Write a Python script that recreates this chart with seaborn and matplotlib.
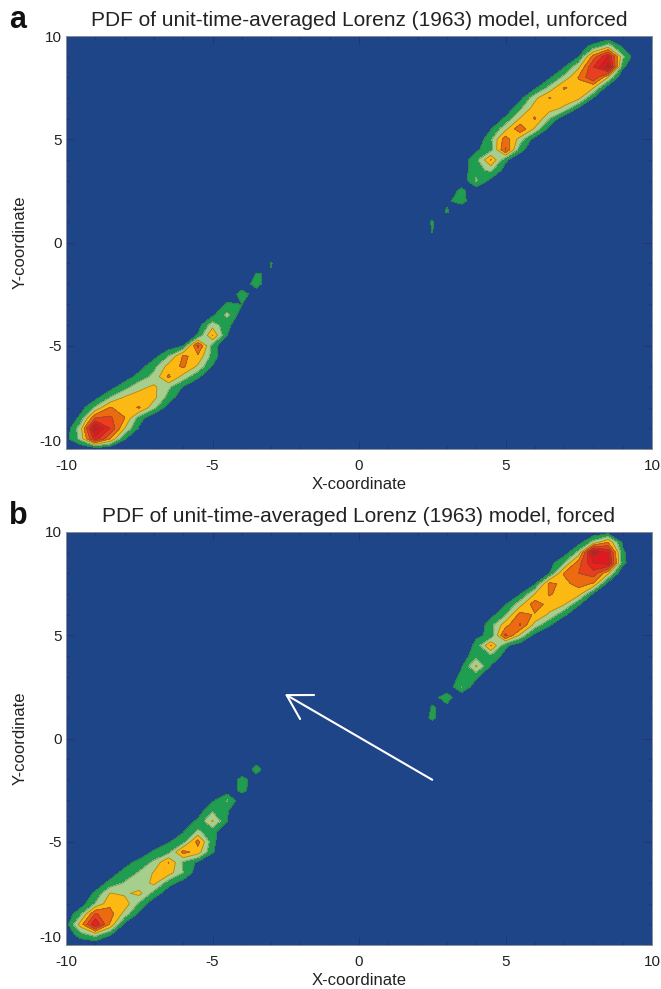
import numpy as np
import matplotlib
matplotlib.use("Agg")
import matplotlib.pyplot as plt
import seaborn as sns

# PDF values, on a 0.5 grid, in units of contour level.
# each row: y of the row, x of its first node, values going right
A_ROW_Y = [9.5, 9.0, 8.5, 8.0, 7.5, 7.0, 6.5, 6.0, 5.5, 5.0, 4.5, 4.0, 3.5, 3.0, 2.5, 2.0, 1.5, 1.0, 0.5,
           -1.0, -1.5, -2.0, -2.5, -3.0, -3.5, -4.0, -4.5, -5.0, -5.5, -6.0, -6.5, -7.0, -7.5, -8.0, -8.5, -9.0, -9.5]
A_ROW_X0 = [7.5, 7.0, 6.5, 6.0, 5.5, 5.5, 5.0, 4.5, 4.5, 4.0, 4.0, 3.5, 3.5, 3.5, 3.0, 3.0, 3.0, 2.5, 2.5,
            -3.0, -3.5, -4.0, -4.5, -5.0, -5.0, -5.5, -6.0, -6.5, -7.0, -7.5, -8.0, -8.5, -9.0, -9.5, -9.5, -10.0, -10.0]
A_ROW_VALUES = [
    [0.5, 1.3, 2.6, 0.8],
    [0.2, 1.0, 4.5, 7.0, 2.3],
    [0.2, 0.9, 2.8, 6.0, 8.5, 1.2],
    [0.1, 0.8, 2.3, 4.1, 6.0, 3.0, 0.0],
    [0.1, 0.7, 2.3, 4.1, 3.6, 3.1, 0.4],
    [0.6, 2.7, 4.05, 3.6, 3.3, 0.9],
    [0.1, 1.8, 3.5, 3.5, 2.8, 0.8, 0.0],
    [0.0, 1.2, 3.1, 4.1, 2.0, 0.2],
    [0.9, 2.7, 4.8, 2.8, 0.6, 0.0],
    [0.1, 1.8, 4.6, 2.5, 0.5, 0.0],
    [0.8, 1.6, 5.1, 1.4, 0.1],
    [0.3, 1.7, 4.05, 1.2, 0.1],
    [0.4, 1.7, 2.2, 0.5],
    [0.25, 2.15, 0.7],
    [0.3, 1.3, 0.25],
    [0.8, 1.4, 0.1],
    [1.15],
    [1.12],
    [1.03],
    [1.08],
    [1.05, 0.9],
    [0.4, 1.4, 0.2],
    [0.2, 1.4, 0.5],
    [0.1, 1.2, 1.0],
    [0.7, 2.3, 0.4],
    [0.5, 2.6, 1.3, 0.1],
    [0.2, 1.1, 4.05, 1.0],
    [0.3, 1.0, 5.3, 1.5, 0.0],
    [0.6, 2.0, 4.1, 3.8, 1.6, 0.0],
    [0.5, 1.7, 3.4, 4.2, 2.8, 0.9, 0.0],
    [0.4, 1.4, 2.3, 4.2, 2.6, 1.2, 0.0],
    [0.5, 1.6, 2.7, 3.2, 2.2, 0.9, 0.0],
    [0.6, 2.0, 3.1, 3.5, 3.3, 1.6, 0.2],
    [0.5, 2.2, 4.1, 3.5, 4.1, 2.3, 0.4],
    [1.3, 5.0, 5.2, 4.05, 1.5, 0.0],
    [0.3, 2.6, 8.5, 6.0, 3.0, 0.8, 0.0],
    [0.6, 2.4, 6.5, 4.1, 1.1],
]

B_ROW_Y = [10.0, 9.5, 9.0, 8.5, 8.0, 7.5, 7.0, 6.5, 6.0, 5.5, 5.0, 4.5, 4.0, 3.5, 3.0, 2.5, 2.0, 1.5, 1.0,
           -1.0, -1.5, -2.0, -2.5, -3.0, -3.5, -4.0, -4.5, -5.0, -5.5, -6.0, -6.5, -7.0, -7.5, -8.0, -8.5, -9.0, -9.5]
B_ROW_X0 = [8.0, 7.5, 7.0, 6.5, 6.0, 5.5, 5.5, 5.0, 4.5, 4.0, 4.0, 3.5, 3.5, 3.5, 3.0, 3.0, 2.5, 2.5, 2.5,
            -3.5, -4.0, -4.5, -4.5, -5.0, -5.5, -6.0, -6.5, -7.0, -7.5, -8.0, -8.5, -9.0, -9.5, -9.5, -10.0, -10.0, -10.0]
B_ROW_VALUES = [
    [0.1, 0.4],
    [0.5, 2.4, 4.0, 0.8],
    [0.4, 2.4, 8.5, 7.0, 1.2],
    [0.5, 2.0, 4.6, 7.0, 7.5, 1.3],
    [0.2, 1.0, 4.1, 5.0, 5.6, 3.2, 0.0],
    [0.0, 0.8, 4.3, 3.7, 4.4, 3.9, 0.5],
    [0.9, 3.0, 4.1, 3.6, 3.4, 0.8],
    [0.9, 2.6, 4.6, 3.6, 3.1, 1.1],
    [0.6, 1.9, 4.4, 3.9, 2.8, 1.2, 0.1],
    [0.1, 1.6, 3.6, 5.1, 2.6, 1.1],
    [0.8, 1.2, 5.3, 2.8, 0.6],
    [0.1, 1.3, 4.1, 1.2, 0.3],
    [0.4, 1.6, 1.8, 0.6],
    [0.9, 3.15, 0.9],
    [0.1, 1.3, 1.2, 0.1],
    [0.2, 2.05, 0.3],
    [0.6, 1.5, 0.1],
    [1.1, 0.7],
    [1.3],
    [0.55],
    [0.3, 1.3, 0.3],
    [0.2, 1.3, 0.55],
    [0.3, 1.3, 0.4],
    [0.8, 2.1, 0.2],
    [0.4, 1.9, 1.1, 0.0],
    [0.3, 1.2, 3.1, 1.0],
    [0.1, 0.9, 2.2, 1.4, 0.0],
    [0.1, 0.9, 1.6, 4.4, 1.3, 0.0],
    [0.1, 1.2, 1.7, 4.4, 3.5, 1.1],
    [0.5, 1.4, 2.2, 4.05, 1.8, 0.8, 0.1],
    [0.4, 1.4, 2.1, 3.1, 3.5, 2.0, 0.4],
    [0.3, 1.3, 2.1, 2.3, 3.3, 1.4, 0.5],
    [0.2, 1.2, 3.05, 2.8, 3.3, 1.6, 0.3],
    [0.4, 2.1, 3.7, 3.6, 1.8, 0.2],
    [0.2, 1.8, 5.1, 4.5, 2.6, 0.7],
    [0.5, 3.5, 7.0, 3.9, 0.7],
    [0.1, 1.6, 2.4, 1.1],
]

LEVELS = [1, 2, 3, 4, 5, 6, 7, 8, 12]
LEVEL_COLORS = ["#1f9e52", "#a6cf8d", "#fdb913", "#ec6a10", "#ea3f1f", "#e8201e", "#e0181f", "#cc1a26"]
TITLES = ["PDF of unit-time-averaged Lorenz (1963) model, unforced",
          "PDF of unit-time-averaged Lorenz (1963) model, forced"]
LETTERS = ["a", "b"]
TICKS = [-10, -5, 0, 5, 10]
ARROW_START = (2.5, -2.0)
ARROW_TIP = (-2.53, 2.15)

sns.set_style("ticks")
plt.rcParams["font.family"] = ["Liberation Sans", "DejaVu Sans"]
plt.rcParams["text.color"] = "#222222"
plt.rcParams["axes.labelcolor"] = "#222222"
plt.rcParams["axes.unicode_minus"] = False

grid_x = np.arange(-10, 10.5, 0.5)
grid_y = np.arange(-10, 10.5, 0.5)


def build_grid(row_y, row_x0, row_values):
    z = np.zeros((len(grid_y), len(grid_x)))
    for y, x0, values in zip(row_y, row_x0, row_values):
        i = int(round((y + 10) * 2))
        j = int(round((x0 + 10) * 2))
        z[i, j:j + len(values)] = values
    return z


def draw_panel(ax, z, title, letter, letter_y):
    ax.set_facecolor("#1f4589")
    palette = sns.color_palette(LEVEL_COLORS)
    ax.contourf(grid_x, grid_y, z, levels=LEVELS, colors=palette)
    ax.contour(grid_x, grid_y, z, levels=LEVELS[:-1], colors="#4a5a30", linewidths=0.6, alpha=0.5)
    ax.set_xlim(-10, 10)
    ax.set_ylim(-10, 10)
    ax.set_xticks(TICKS)
    ax.set_yticks(TICKS)
    ax.set_xticks(range(-10, 11), minor=True)
    ax.set_yticks(range(-10, 11), minor=True)
    ax.tick_params(which="major", direction="in", length=6, width=0.7, color="#2d2f70",
                   top=True, right=True, labelsize=11, labelcolor="#222222")
    ax.tick_params(axis="x", which="major", pad=7)
    ax.tick_params(axis="y", which="major", pad=3)
    ax.tick_params(which="minor", direction="in", length=2.5, width=0.7, color="#2d2f70",
                   top=True, right=True)
    # the lowest y label sits a little above the axis corner
    ax.get_yticklabels()[0].set_verticalalignment("bottom")
    for spine in ax.spines.values():
        spine.set_color("#8a8f9c")
        spine.set_linewidth(0.7)
    ax.set_xlabel("X-coordinate", fontsize=12, labelpad=3)
    ax.set_ylabel("Y-coordinate", fontsize=12, labelpad=9)
    ax.set_title(title, fontsize=15, pad=7)
    fig.text(0.014, letter_y, letter, fontsize=22, fontweight="bold", color="#111111", va="center")


fig = plt.figure(figsize=(6.61, 9.89), dpi=100)
ax_a = fig.add_axes([66 / 661, 1 - 449 / 989, 586 / 661, 413 / 989])
ax_b = fig.add_axes([66 / 661, 1 - 945 / 989, 586 / 661, 413 / 989])

draw_panel(ax_a, build_grid(A_ROW_Y, A_ROW_X0, A_ROW_VALUES), TITLES[0], LETTERS[0], 1 - 20 / 989)
draw_panel(ax_b, build_grid(B_ROW_Y, B_ROW_X0, B_ROW_VALUES), TITLES[1], LETTERS[1], 1 - 516 / 989)

ax_b.annotate("", xy=ARROW_TIP, xytext=ARROW_START,
              arrowprops=dict(arrowstyle="->,head_length=1.7,head_width=1.0", color="white",
                              lw=1.5, mutation_scale=10, shrinkA=0, shrinkB=0))

fig.savefig("out.png", dpi=100)
